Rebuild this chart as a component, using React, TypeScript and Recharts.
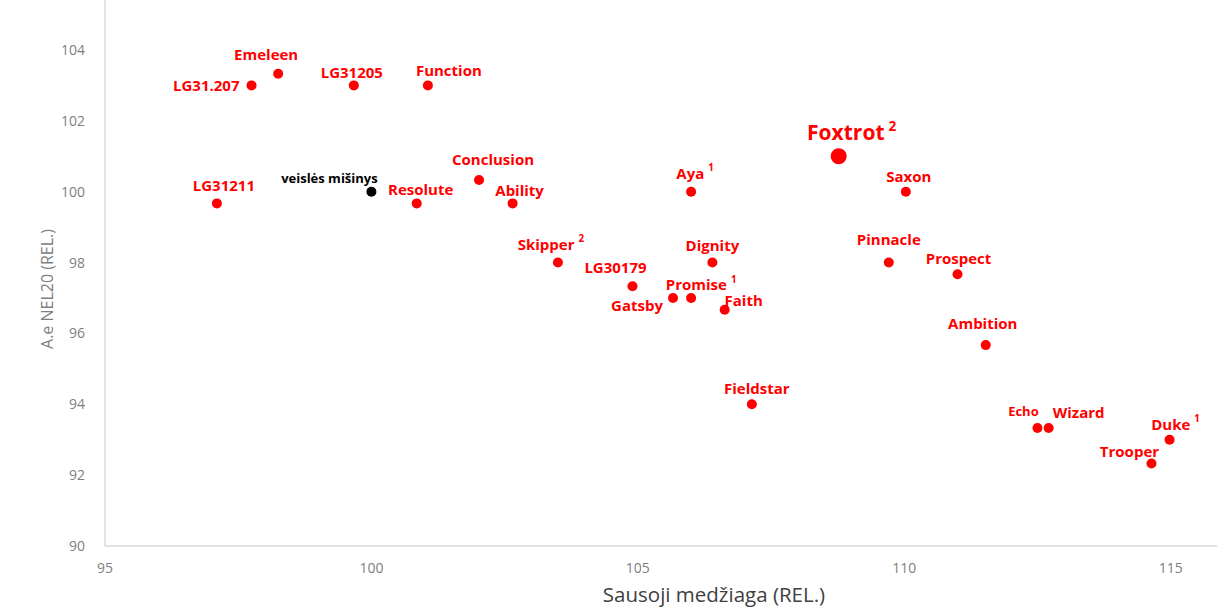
import React from 'react';
import { ScatterChart, Scatter, XAxis, YAxis, Label } from 'recharts';

// values
const names = [
	'LG31.207', 'Emeleen', 'LG31205', 'Function', 'LG31211', 'veislės mišinys',
	'Resolute', 'Conclusion', 'Ability', 'Aya', 'Foxtrot', 'Saxon',
	'Skipper', 'LG30179', 'Dignity', 'Gatsby', 'Promise', 'Faith',
	'Pinnacle', 'Prospect', 'Ambition', 'Fieldstar', 'Echo', 'Wizard',
	'Duke', 'Trooper',
];
const dryMatter = [
	97.75, 98.25, 99.67, 101.06, 97.1, 100,
	100.85, 102.02, 102.65, 106, 108.77, 110.03,
	103.5, 104.9, 106.4, 105.66, 106, 106.63,
	109.71, 111, 111.53, 107.14, 112.5, 112.71,
	114.98, 114.64,
];
const nel20 = [
	103, 103.33, 103, 103, 99.67, 100,
	99.67, 100.33, 99.67, 100, 101, 100,
	98, 97.33, 98, 97, 97, 96.67,
	98, 97.67, 95.67, 94, 93.33, 93.33,
	93, 92.33,
];
const notes = [
	'', '', '', '', '', '',
	'', '', '', '1', '2', '',
	'2', '', '', '', '1', '',
	'', '', '', '', '', '',
	'1', '',
];
const xTicks = [95, 100, 105, 110, 115];
const yTicks = [90, 92, 94, 96, 98, 100, 102, 104];

const points = names.map((name, i) => ({ name, x: dryMatter[i], y: nel20[i], note: notes[i] }));

// label placement relative to the dot
const labelPos: Record<string, { dx: number; dy: number; anchor?: string }> = {
	'LG31.207': { dx: -12, dy: 0, anchor: 'end' },
	Emeleen: { dx: -12, dy: -20 },
	LG31205: { dx: -2, dy: -13 },
	Function: { dx: 21, dy: -15 },
	LG31211: { dx: 7, dy: -18 },
	'veislės mišinys': { dx: -42, dy: -14 },
	Resolute: { dx: 4, dy: -14 },
	Conclusion: { dx: 14, dy: -21 },
	Ability: { dx: 7, dy: -13 },
	Aya: { dx: 4, dy: -19 },
	Foxtrot: { dx: 13, dy: -24 },
	Saxon: { dx: 3, dy: -16 },
	Skipper: { dx: -7, dy: -19 },
	LG30179: { dx: -17, dy: -19 },
	Dignity: { dx: 0, dy: -18 },
	Gatsby: { dx: -10, dy: 7, anchor: 'end' },
	Promise: { dx: 10, dy: -14 },
	Faith: { dx: 19, dy: -10 },
	Pinnacle: { dx: 0, dy: -24 },
	Prospect: { dx: 1, dy: -16 },
	Ambition: { dx: -3, dy: -22 },
	Fieldstar: { dx: 5, dy: -16 },
	Echo: { dx: -14, dy: -17 },
	Wizard: { dx: 30, dy: -16 },
	Duke: { dx: 6, dy: -16 },
	Trooper: { dx: -22, dy: -12 },
};

const FONT = '"Open Sans", sans-serif';

const renderPoint = (props: any) => {
	const { cx, cy, payload } = props;
	const name = payload.name;
	const big = name === 'Foxtrot';
	const mix = name === 'veislės mišinys';
	const fill = mix ? '#000000' : '#ff0000';
	const size = big ? 21 : mix ? 13 : name === 'Echo' ? 13 : 15;
	const pos = labelPos[name] || { dx: 0, dy: -16 };
	return (
		<g>
			<circle cx={cx} cy={cy} r={big ? 8 : 5} fill={fill} />
			<text
				x={cx + pos.dx}
				y={cy + pos.dy}
				textAnchor={pos.anchor || 'middle'}
				dominantBaseline="central"
				fill={fill}
				style={{ fontSize: size, fontWeight: 'bold', fontFamily: FONT }}>
				{name}
				{payload.note ? (
					<tspan dx={4} dy={-size * 0.35} style={{ fontSize: size * 0.65 }}>{payload.note}</tspan>
				) : null}
			</text>
		</g>
	);
};

const renderYTitle = (props: any) => {
	const { viewBox } = props;
	const x = 47;
	const y = viewBox.y + viewBox.height / 2 + 16;
	return (
		<text
			x={x}
			y={y}
			transform={`rotate(-90, ${x}, ${y})`}
			textAnchor="middle"
			dominantBaseline="central"
			style={{ fill: '#808080', fontSize: 16, fontFamily: FONT }}>
			A.e NEL20 (REL.)
		</text>
	);
};

const App = () => {
	return (
		<div style={{ position: 'absolute', left: 0, top: 0 }}>
			<ScatterChart width={1219} height={607} margin={{ top: 0, right: 2, bottom: 0, left: 0 }}>
				<XAxis
					type="number"
					dataKey="x"
					domain={[95, 115.87]}
					ticks={xTicks}
					allowDataOverflow
					height={61}
					tickLine={false}
					axisLine={{ stroke: '#d9d9d9', strokeWidth: 1.5 }}
					tick={{ fill: '#808080', fontSize: 14, fontFamily: FONT }}
					tickMargin={11}>
					<Label
						value="Sausoji medžiaga (REL.)"
						position="insideBottom"
						offset={5}
						dx={53}
						style={{ fill: '#404040', fontSize: 20.5, fontFamily: FONT }}
					/>
				</XAxis>
				<YAxis
					type="number"
					dataKey="y"
					domain={[90, 105.41]}
					ticks={yTicks}
					allowDataOverflow
					width={105}
					tickLine={false}
					axisLine={{ stroke: '#d9d9d9', strokeWidth: 1.5 }}
					tick={{ fill: '#808080', fontSize: 14, fontFamily: FONT }}
					tickMargin={14}>
					<Label position="insideLeft" content={renderYTitle} />
				</YAxis>
				<Scatter data={points} shape={renderPoint} isAnimationActive={false} />
			</ScatterChart>
		</div>
	);
};

export default App;
